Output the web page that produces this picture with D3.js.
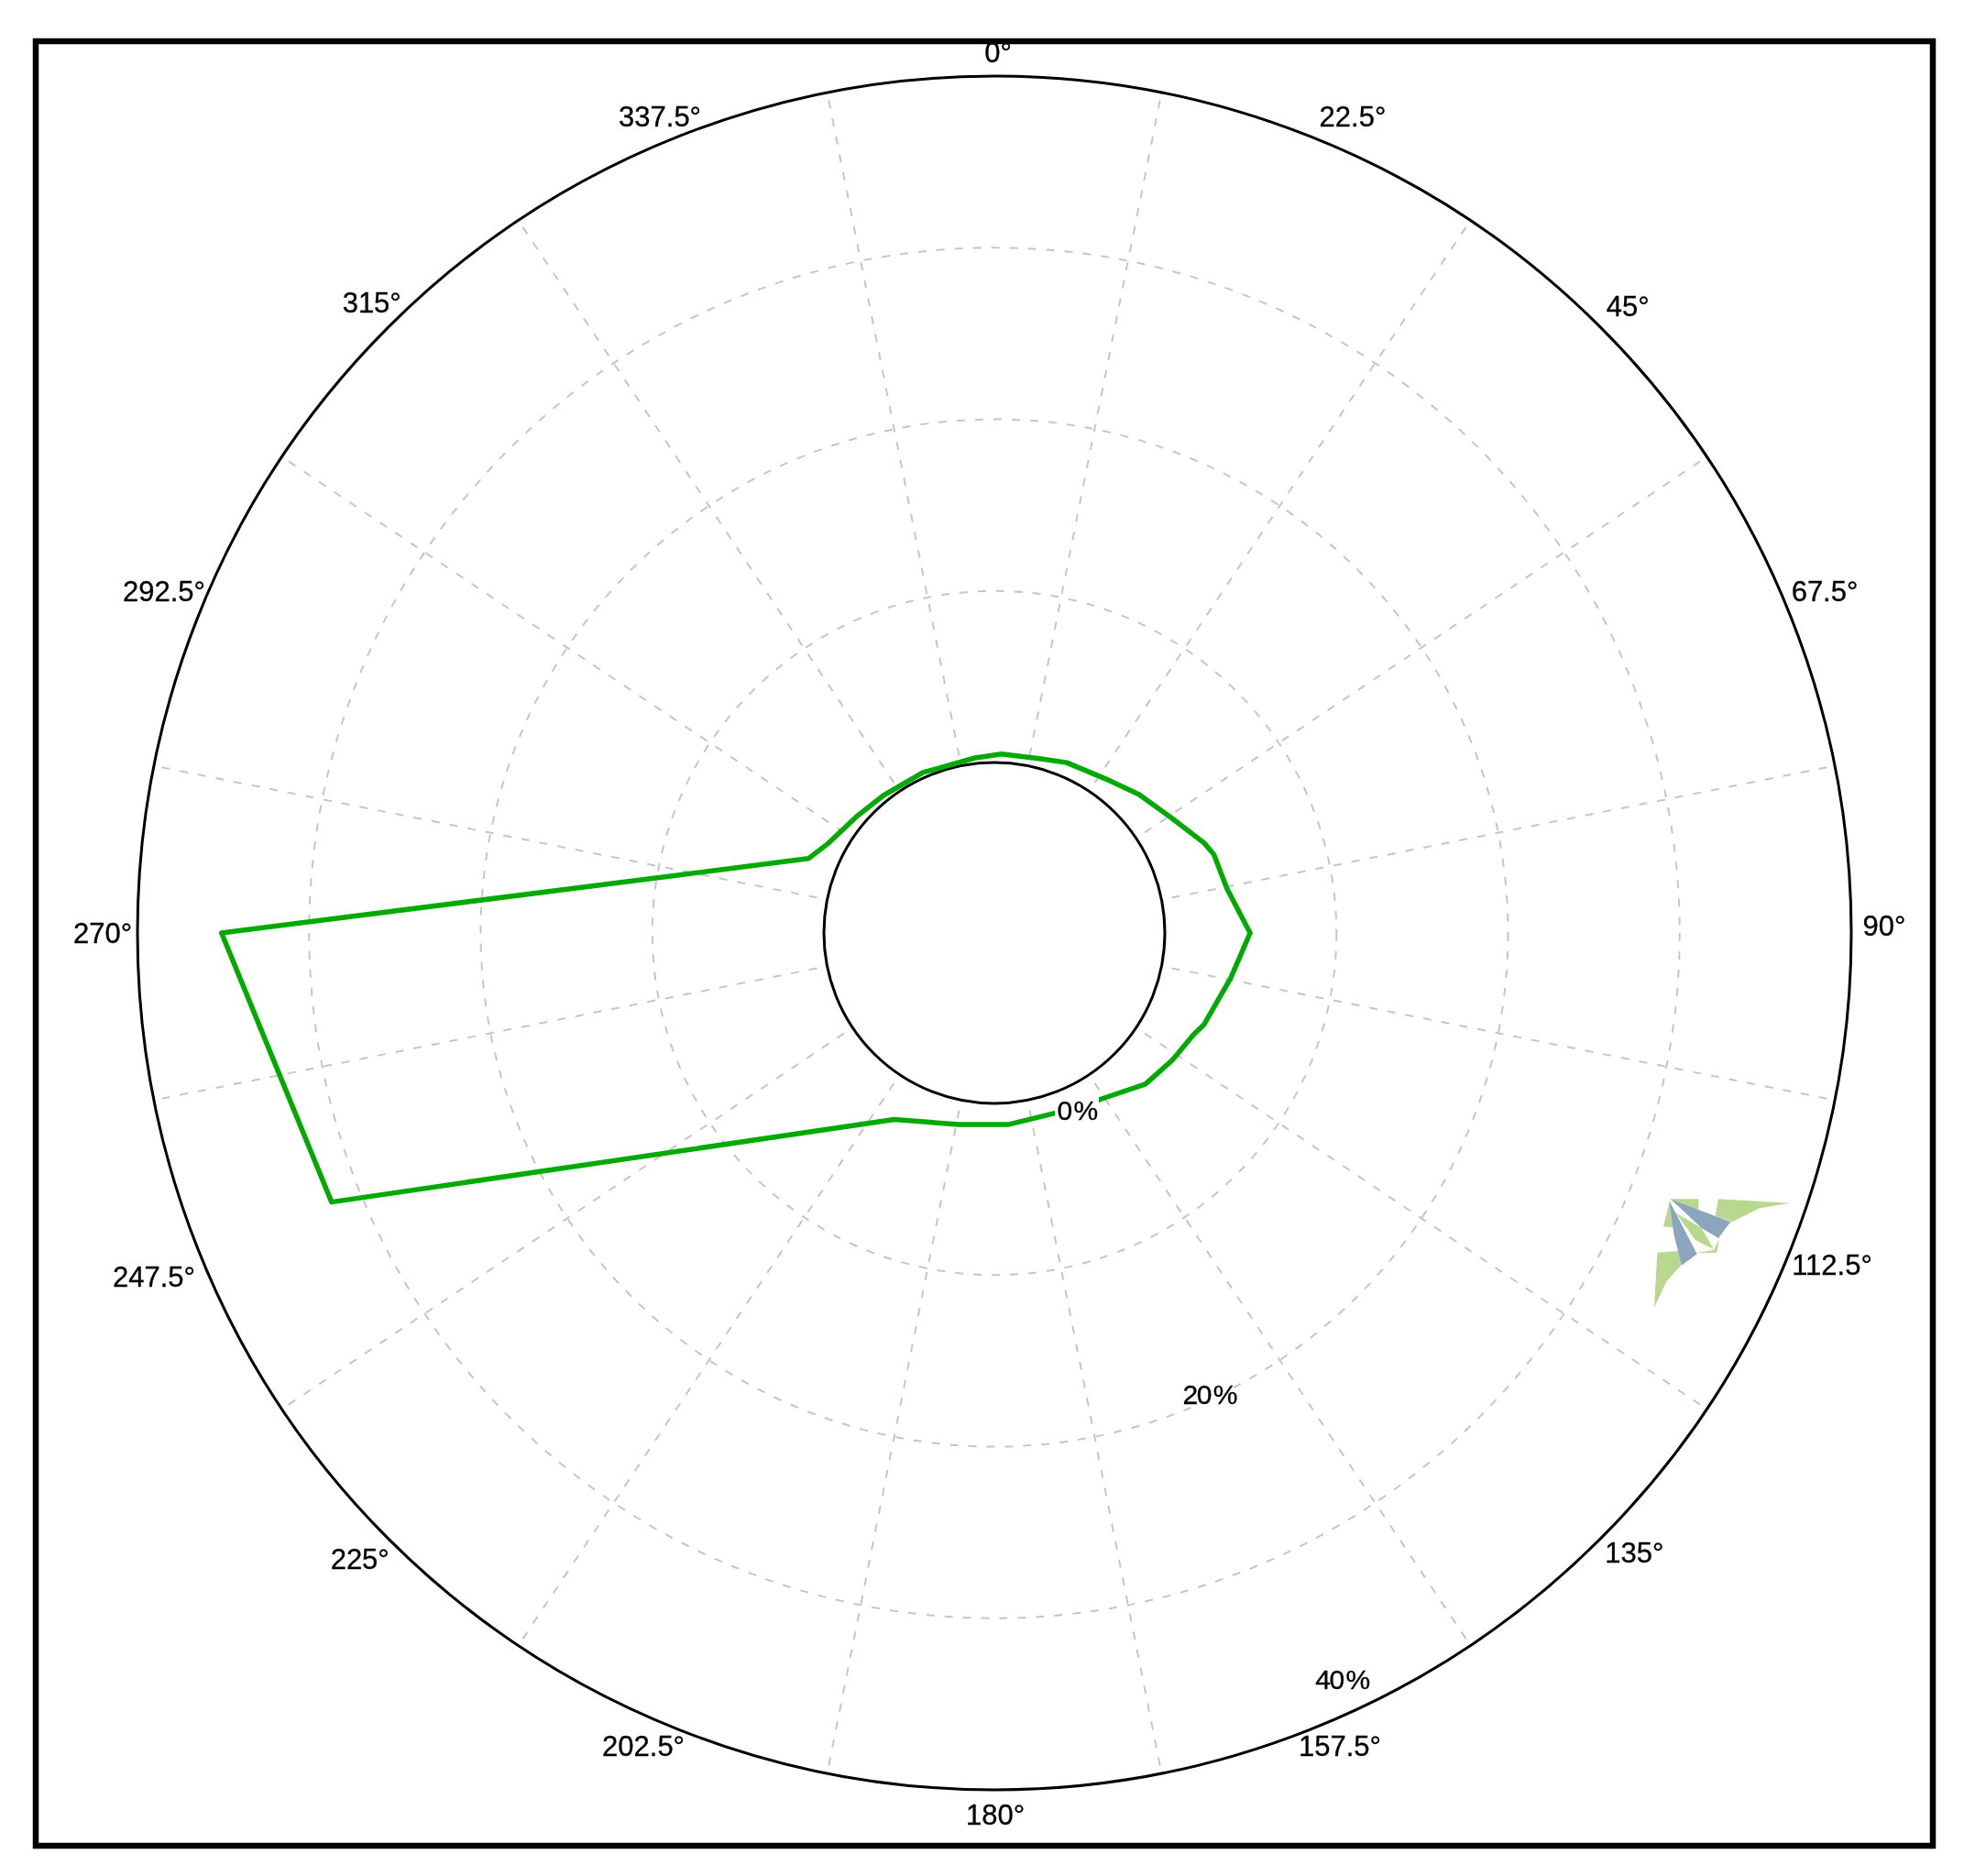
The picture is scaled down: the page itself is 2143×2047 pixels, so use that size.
<!DOCTYPE html>
<html><head><meta charset="utf-8">
<style>html,body{margin:0;padding:0;background:#fff}svg{display:block}
text{font-family:"Liberation Sans",Arial,sans-serif;fill:#000;font-weight:400;stroke:#000;stroke-width:0.35}</style>
<script src="https://cdn.jsdelivr.net/npm/d3@7"></script></head><body>
<div id="chart"></div>
<script>
// --- data ---
const angleLabels = ["0°","22.5°","45°","67.5°","90°","112.5°","135°","157.5°","180°","202.5°","225°","247.5°","270°","292.5°","315°","337.5°"];
const labelAngles = [0,22.5,45,67.5,90,112.5,135,157.5,180,202.5,225,247.5,270,292.5,315,337.5];
const spokeAngles = [11.25,33.75,56.25,78.75,101.25,123.75,146.25,168.75,191.25,213.75,236.25,258.75,281.25,303.75,326.25,348.75];
const gridRings = [10,20,30];
const boundaryRings = [0,40];
const valueLabels = ["0 %","20 %","40 %"];
const valueLabelValues = [0,20,40];
const valueLabelAngle = 155;
const seriesAngle = [2.3,15,23,36,46.3,57.2,66.8,70.3,79.3,90,100.8,113.6,117,125.6,135,147.7,161.7,175.9,190.6,208.2,247.9,270,291.8,298.4,310.7,321.1,336,353.7];
const seriesValue = [0.5,0.57,0.85,1.15,1.74,2.39,3.37,3.65,3.87,4.97,4.09,3.4,3.1,2.81,2.52,1.55,1.14,1.26,1.42,2.4,31.75,35.1,1.74,1.06,0.56,0.36,0.3,0.33];

// --- layout ---
const W=2143,H=2047,cx=1085,cy=1018;
const r=d3.scaleLinear().domain([0,40]).range([186,935]);
const rad=d=>d*Math.PI/180;
const labelNudge=[[4,11],[19,7],[4,3],[8,-1],[-1,-8],[16,-10],[11,-11],[5,-11],[1,-10],[-11,-11],[-5,-4],[-19,3],[-1,0],[-8,-1],[8,-1],[7,7]];
const svg=d3.select("#chart").append("svg").attr("width",W).attr("height",H).attr("viewBox",[0,0,W,H]);
const defs=svg.append("defs");
defs.append("filter").attr("id","soft").append("feGaussianBlur").attr("stdDeviation",0.7);
svg.append("rect").attr("width",W).attr("height",H).attr("fill","#fff");
svg.append("rect").attr("x",39).attr("y",45).attr("width",2070).attr("height",1969)
  .attr("fill","none").attr("stroke","#000").attr("stroke-width",6.5);
const g=svg.append("g").attr("transform",`translate(${cx},${cy})`).attr("filter","url(#soft)");

g.selectAll("line.spoke").data(spokeAngles).join("line").attr("class","spoke")
  .attr("x1",d=>Math.sin(rad(d))*r(0.6)).attr("y1",d=>-Math.cos(rad(d))*r(0.6))
  .attr("x2",d=>Math.sin(rad(d))*r(39.6)).attr("y2",d=>-Math.cos(rad(d))*r(39.6))
  .attr("stroke","#c6c6c6").attr("stroke-width",2).attr("stroke-dasharray","9 11");
g.selectAll("circle.grid").data(gridRings).join("circle").attr("class","grid")
  .attr("r",d=>r(d)).attr("fill","none").attr("stroke","#c6c6c6").attr("stroke-width",2).attr("stroke-dasharray","9 11");
g.selectAll("circle.bound").data(boundaryRings).join("circle").attr("class","bound")
  .attr("r",d=>r(d)).attr("fill","none").attr("stroke","#000").attr("stroke-width",3);

const pts=seriesAngle.map((a,i)=>[rad(a),r(seriesValue[i])]);
g.append("path").attr("d",d3.lineRadial().curve(d3.curveLinearClosed)(pts))
  .attr("fill","none").attr("stroke","#00aa00").attr("stroke-width",5.5).attr("stroke-linejoin","round");

// value labels sit on their own radial scale, white-backed
const rLabel=d3.scaleLinear().domain([0,40]).range([213,898]);
const vl=g.selectAll("g.vl").data(valueLabels).join("g").attr("class","vl")
  .attr("transform",(d,i)=>{const R=rLabel(valueLabelValues[i]),A=rad(valueLabelAngle);return `translate(${Math.sin(A)*R},${-Math.cos(A)*R})`;});
vl.append("rect").attr("x",-24).attr("y",-14).attr("width",48).attr("height",28).attr("fill","#fff");
vl.append("text").attr("text-anchor","middle").attr("dy","0.36em").attr("font-size",30)
  .attr("word-spacing",-4).attr("letter-spacing",-1.5).text(d=>d);

// angle labels
const lr=972;
g.selectAll("text.al").data(angleLabels).join("text").attr("class","al")
  .attr("x",(d,i)=>Math.sin(rad(labelAngles[i]))*lr+labelNudge[i][0]).attr("y",(d,i)=>-Math.cos(rad(labelAngles[i]))*lr+labelNudge[i][1])
  .attr("text-anchor","middle").attr("dy","0.36em").attr("font-size",31).text(d=>d);

// logo mark (small decoration at lower right)
const logo=svg.append("g").attr("transform","translate(1760,1270) scale(0.3333)").attr("filter","url(#soft)");
const logoGreen=["M345 115L580 128L480 145L390 190L335 170Z","M185 115L280 115L280 150L225 140Z","M185 125L215 210L165 205Z","M145 290L215 285L225 330L175 385L135 470Z","M205 160L290 210L330 280L270 250Z","M270 292L340 290L348 245L330 282Z"];
const logoBlue=["M190 116L385 190L345 243L290 210Z","M184 120L275 295L225 332L200 235Z"];
logo.selectAll("path.g").data(logoGreen).join("path").attr("class","g").attr("d",d=>d).attr("fill","#b9d88f");
logo.selectAll("path.b").data(logoBlue).join("path").attr("class","b").attr("d",d=>d).attr("fill","#8aa5bd");
</script></body></html>
